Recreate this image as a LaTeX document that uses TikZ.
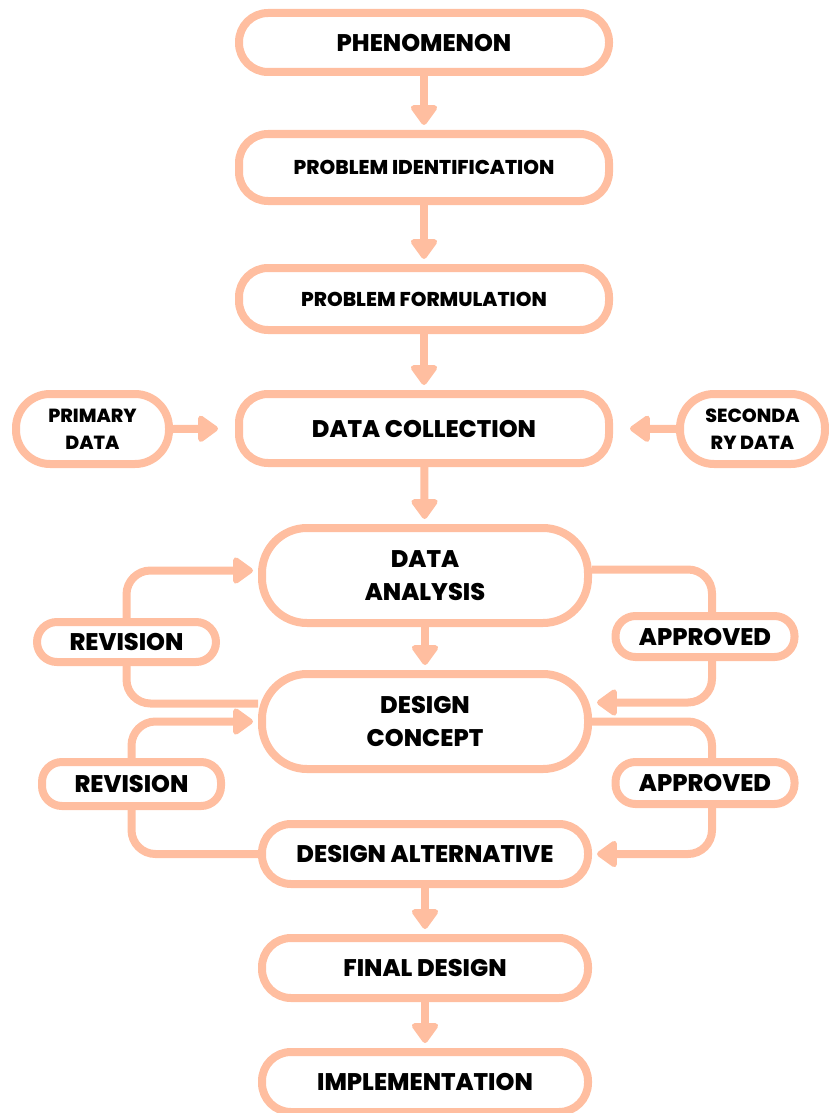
\documentclass[tikz,border=0pt]{standalone}
\usepackage{fontspec}
\setmainfont{Poppins}[BoldFont={Poppins ExtraBold}]
\usetikzlibrary{arrows.meta,backgrounds}
\definecolor{peach}{RGB}{255,190,160}

\begin{document}
\begin{tikzpicture}[x=1pt,y=-1pt,
  box/.style={draw=peach, line width=8pt, fill=white, inner sep=0pt,
    align=center, font=\bfseries\fontsize{24}{33}\selectfont},
  wide/.style={box, minimum width=370pt, minimum height=#1, rounded corners=29pt},
  mid/.style={box, minimum width=326pt, minimum height=#1, rounded corners=29pt},
  tall/.style={box, minimum width=326pt, minimum height=95pt, rounded corners=45pt},
  side/.style={box, minimum height=70pt, rounded corners=34pt,
    font=\bfseries\fontsize{19}{27}\selectfont},
  tag/.style={box, minimum width=179pt, minimum height=#1, rounded corners=20pt},
  small/.style={font=\bfseries\fontsize{20}{24}\selectfont},
  conn/.style={draw=peach, line width=8pt},
  arr/.style={conn, -{Triangle[width=30pt,length=22pt,round]}, shorten >=5pt},
]
\useasboundingbox (0,0) rectangle (829,1113);

% main column
\node[wide=59pt] (phen) at (424,42.5) {PHENOMENON};
\node[wide=67pt, small] (pid) at (424,167.5) {PROBLEM IDENTIFICATION};
\node[wide=62pt, small] (pform) at (424,299) {PROBLEM FORMULATION};
\node[wide=69pt] (dcol) at (424,428.5) {DATA COLLECTION};
\node[tall] (da) at (425,575.5) {DATA\\ANALYSIS};
\node[tall] (dc) at (425,721.5) {DESIGN\\CONCEPT};
\node[mid=60pt] (dalt) at (425,854) {DESIGN ALTERNATIVE};
\node[mid=60pt] (fin) at (425,968) {FINAL DESIGN};
\node[mid=60pt] (impl) at (425,1082) {IMPLEMENTATION};

% data sources
\node[side, minimum width=153pt] (prim) at (92.5,429) {PRIMARY\\DATA};
\node[side, minimum width=145pt] (sec) at (752.5,429) {SECONDA\\RY DATA};

% review labels
\node[tag=40pt] (rev1) at (126.5,642) {REVISION};
\node[tag=41pt] (app1) at (705,636.5) {APPROVED};
\node[tag=44pt] (rev2) at (131.5,784) {REVISION};
\node[tag=42pt] (app2) at (705,783) {APPROVED};

\begin{pgfonlayer}{background}
  % straight flow
  \draw[arr] (phen) -- (pid);
  \draw[arr] (pid) -- (pform);
  \draw[arr] (pform) -- (dcol);
  \draw[arr] (dcol) -- (da);
  \draw[arr] (da) -- (dc);
  \draw[arr] (dalt) -- (fin);
  \draw[arr] (fin) -- (impl);
  \draw[arr, shorten >=17pt] (prim.east) -- (dcol.west);
  \draw[arr, shorten >=17pt] (sec.west) -- (dcol.east);

  % analysis / concept loop
  \draw[arr, rounded corners=24pt] (rev1.north) |- ([yshift=5pt]da.west);
  \draw[conn, rounded corners=24pt] ([yshift=18pt]dc.west) -| (rev1.south);
  \draw[conn, rounded corners=24pt] ([yshift=6pt]da.east) -| ([xshift=7pt]app1.north);
  \draw[arr, rounded corners=24pt] ([xshift=7pt]app1.south) |- ([yshift=19pt]dc.east);

  % concept / alternative loop
  \draw[arr, rounded corners=24pt] (rev2.north) |- (dc.west);
  \draw[conn, rounded corners=24pt] (dalt.west) -| (rev2.south);
  \draw[conn, rounded corners=24pt] (dc.east) -| ([xshift=7pt]app2.north);
  \draw[arr, rounded corners=24pt] ([xshift=7pt]app2.south) |- (dalt.east);
\end{pgfonlayer}
\end{tikzpicture}
\end{document}
